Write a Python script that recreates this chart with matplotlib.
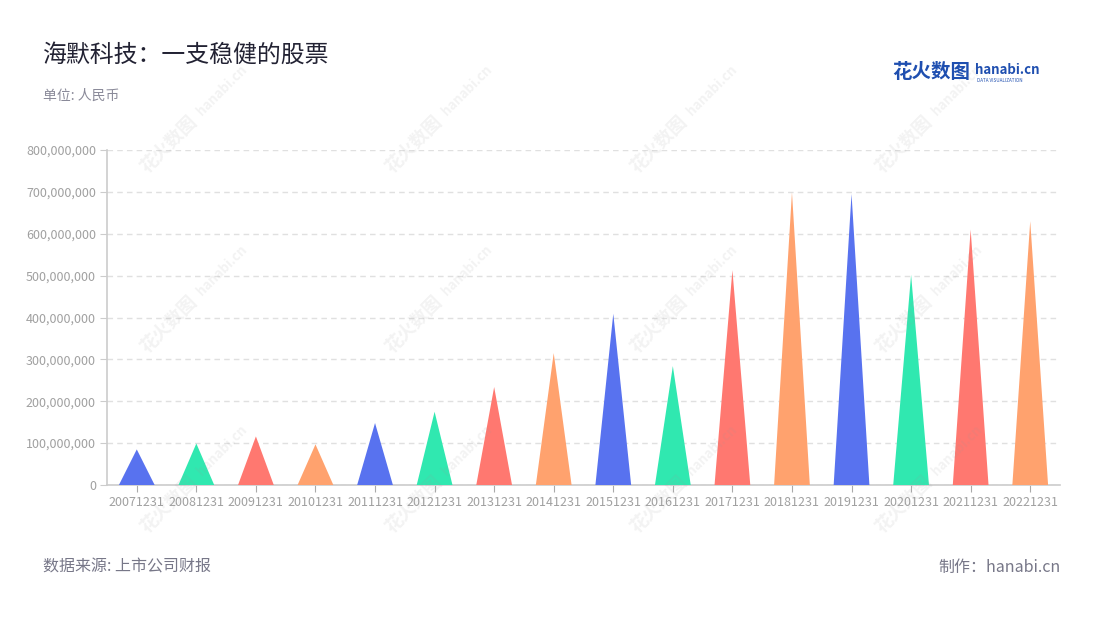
import matplotlib
matplotlib.use("Agg")
import matplotlib.pyplot as plt
import numpy as np
from matplotlib.ticker import FuncFormatter, MultipleLocator

plt.rcParams['font.family'] = ['Noto Sans CJK SC', 'DejaVu Sans']

categories = ["20071231", "20081231", "20091231", "20101231", "20111231", "20121231",
              "20131231", "20141231", "20151231", "20161231", "20171231", "20181231",
              "20191231", "20201231", "20211231", "20221231"]
values = [85e6, 99e6, 116e6, 97e6, 148e6, 175e6, 234e6, 315e6, 409e6, 284e6,
          513e6, 699e6, 695e6, 502e6, 610e6, 630e6]
palette = ["#5872EF", "#30E8B0", "#FF7870", "#FFA26E"]

title = "海默科技：一支稳健的股票"
unit = "单位: 人民币"
source = "数据来源: 上市公司财报"
maker = "制作：hanabi.cn"

W, H = 1100, 620
fig = plt.figure(figsize=(W / 100, H / 100), dpi=100)
ax = fig.add_axes([107 / W, 1 - 485 / H, (1060 - 107) / W, (485 - 150) / H])

half = 0.3
for i, (cat, v) in enumerate(zip(categories, values)):
    ax.fill([i - half, i, i + half], [0, v, 0], color=palette[i % 4], lw=0, zorder=3)

ax.set_xlim(-0.5, len(categories) - 0.5)
ax.set_ylim(0, 800e6)
ax.yaxis.set_major_locator(MultipleLocator(100e6))
ax.yaxis.set_major_formatter(FuncFormatter(lambda v, p: f"{int(round(v)):,}"))
ax.set_xticks(range(len(categories)))
ax.set_xticklabels(categories)

ax.grid(axis='y', color='#e0e0e0', linestyle=(0, (4, 3)), linewidth=1, zorder=0)
ax.grid(axis='x', visible=False)
for s in ['top', 'right']:
    ax.spines[s].set_visible(False)
ax.spines['left'].set_color('#cccccc')
ax.spines['bottom'].set_color('#cccccc')
ax.spines['left'].set_linewidth(1.2)
ax.spines['bottom'].set_linewidth(1.2)
ax.tick_params(axis='y', colors='#cccccc', labelcolor='#a0a0a0', labelsize=9, length=5, pad=3)
ax.tick_params(axis='x', colors='#aaaaaa', labelcolor='#a0a0a0', labelsize=9, length=5, pad=3)

# Titles and footer
fig.text(43 / W, 1 - 55 / H, title, fontsize=17.2, color='#222233', va='center', ha='left')
fig.text(43 / W, 1 - 96 / H, unit, fontsize=10, color='#8a8a99', va='center', ha='left')
fig.text(43 / W, 1 - 567 / H, source, fontsize=11.5, color='#777788', va='center', ha='left')
fig.text(1061 / W, 1 - 567 / H, maker, fontsize=11.5, color='#777788', va='center', ha='right')

# Logo
fig.text(892 / W, 1 - 73 / H, "花火数图", fontsize=14, color='#1f4fb0', fontweight='bold',
         va='center', ha='left')
fig.text(975 / W, 1 - 70 / H, "hanabi.cn", fontsize=9.5, color='#1f4fb0', fontweight='bold',
         va='center', ha='left')
fig.text(977 / W, 1 - 80 / H, "DATA VISUALIZATION", fontsize=3.3, color='#1f4fb0',
         va='center', ha='left')

# Watermarks
ang = np.deg2rad(45)
for cx in [143, 388, 633, 878]:
    for cy in [170, 350, 530]:
        fig.text(cx / W, 1 - cy / H, "花火数图", fontsize=13, color='#999999',
                 alpha=0.12, rotation=45, rotation_mode='anchor', ha='left', va='center',
                 fontweight='bold', zorder=10)
        ox, oy = cx + 80 * np.cos(ang), cy - 80 * np.sin(ang)
        fig.text(ox / W, 1 - oy / H, "hanabi.cn", fontsize=9.5, color='#999999',
                 alpha=0.12, rotation=45, rotation_mode='anchor', ha='left', va='center',
                 fontweight='bold', zorder=10)

fig.savefig("out.png", dpi=100)
